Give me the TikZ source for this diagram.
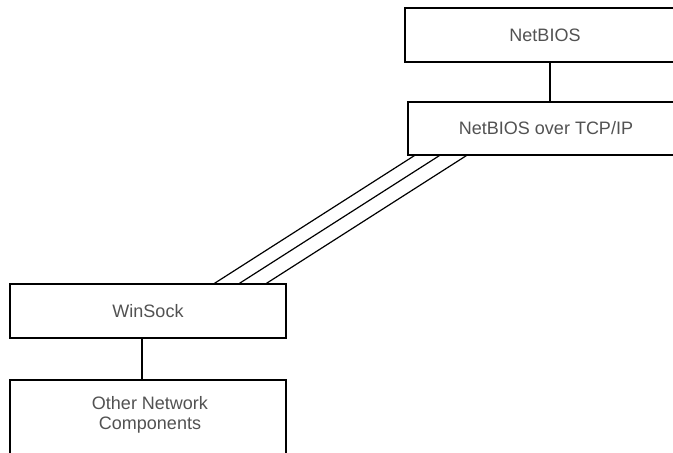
\documentclass[tikz,border=0pt]{standalone}
\usepackage{fontspec}
\setmainfont{Liberation Sans}
\begin{document}
\begin{tikzpicture}[x=1pt,y=-1pt,
  box/.style={draw=black, line width=1.2pt, minimum width=#1, inner sep=0pt},
  box/.default=276pt,
  lbl/.style={text=black!68, font=\fontsize{18}{21}\selectfont, align=center},
  link/.style={draw=black, line width=1.2pt}]
\path[use as bounding box, clip] (0,0) rectangle (673,453);
\fill[white] (0,0) rectangle (673,453);

% protocol stack boxes (the top two run past the right edge)
\node[box=280pt, minimum height=54pt, lbl] (netbios) at (545,35) {NetBIOS};
\node[box=276pt, minimum height=53pt, lbl] (tcp) at (546,128.5) {NetBIOS over TCP/IP};
\node[box=276pt, minimum height=54pt, lbl] (winsock) at (148,311) {WinSock};
\node[box=276pt, minimum height=90pt] (other) at (148,425) {};
\node[lbl, inner sep=0pt] (othertext) at (150,415) {Other Network\\[-1pt]Components};

% vertical links
\draw[link] ([xshift=5pt]netbios.south) -- ([xshift=4pt]tcp.north);
\draw[link] ([xshift=-6pt]winsock.south) -- ([xshift=-6pt]other.north);

% three parallel channels between TCP/IP and WinSock
\draw[link] ([xshift=7pt]tcp.south west) -- ([xshift=205pt]winsock.north west);
\draw[link] ([xshift=32pt]tcp.south west) -- ([xshift=230pt]winsock.north west);
\draw[link] ([xshift=59pt]tcp.south west) -- ([xshift=257pt]winsock.north west);
\end{tikzpicture}
\end{document}
